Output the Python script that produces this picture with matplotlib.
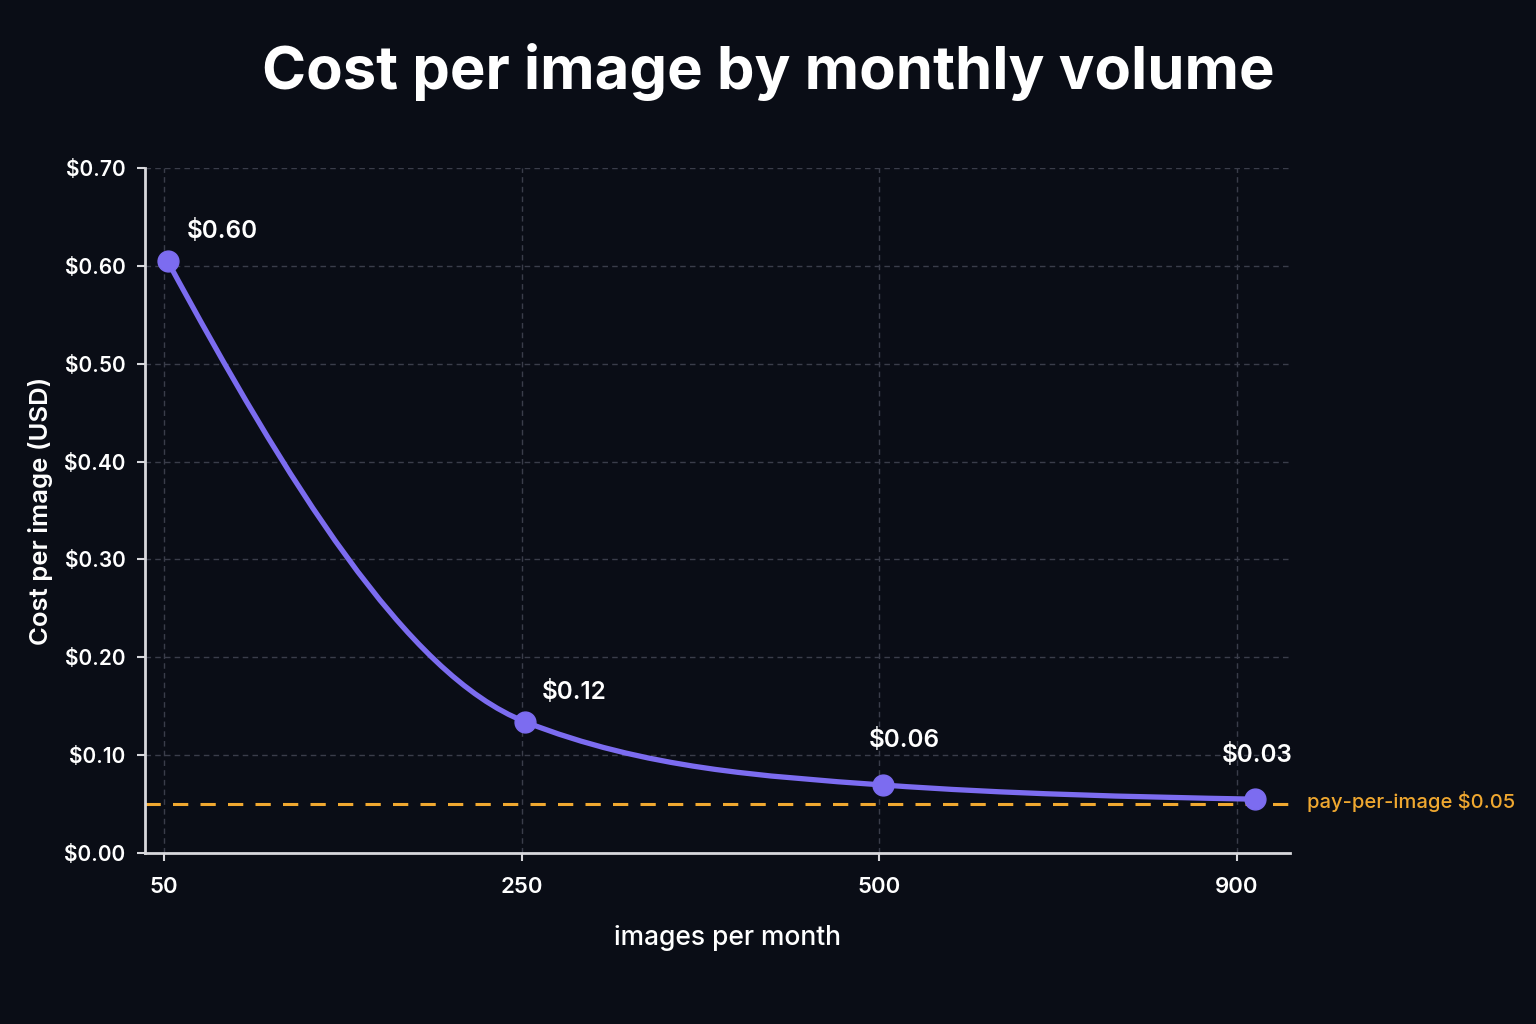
import matplotlib
matplotlib.use("Agg")
import matplotlib.pyplot as plt
from matplotlib.path import Path
from matplotlib.patches import PathPatch
import numpy as np

plt.rcParams['font.family'] = ['Inter', 'DejaVu Sans']

# data
volume_labels = ['50', '250', '500', '900']
point_pos = [0.01, 1.01, 2.01, 3.05]
cost = [0.605, 0.134, 0.0695, 0.055]
cost_labels = ['$0.60', '$0.12', '$0.06', '$0.03']
pay_per_image = 0.05

bg = '#0a0d16'
purple = '#7c6cf0'
orange = '#f0a830'
axis_col = '#d8d8dc'

fig = plt.figure(figsize=(15.36, 10.24), dpi=100, facecolor=bg)
ax = fig.add_axes([145 / 1536, 1 - 853 / 1024, (1290 - 145) / 1536, (853 - 168) / 1024])
ax.set_facecolor(bg)

# smooth decaying curve through the points -> cubic bezier segments
x = np.array(point_pos)
y = np.array(cost)
h = np.diff(x)
d = np.diff(y) / h
m = np.zeros_like(y)
for i in range(1, len(y) - 1):
    geo = -np.sqrt(d[i - 1] * d[i])
    harm = 2 / (1 / d[i - 1] + 1 / d[i])
    m[i] = (geo + harm) / 2
m[0] = ((2 * h[0] + h[1]) * d[0] - h[0] * d[1]) / (h[0] + h[1])
m[-1] = d[-1] * 0.5
verts = [(x[0], y[0])]
codes = [Path.MOVETO]
for i in range(len(x) - 1):
    verts += [(x[i] + h[i] / 3, y[i] + m[i] * h[i] / 3),
              (x[i + 1] - h[i] / 3, y[i + 1] - m[i + 1] * h[i] / 3),
              (x[i + 1], y[i + 1])]
    codes += [Path.CURVE4] * 3

ax.axhline(pay_per_image, color=orange, lw=2.2, ls=(0, (5, 4)), zorder=2)
ax.add_patch(PathPatch(Path(verts, codes), fill=False, edgecolor=purple, lw=3.8,
                       capstyle='round', zorder=3))
ax.plot(point_pos, cost, 'o', color=purple, ms=15, zorder=4)

offsets = [(14, 13), (12, 13), (-10, 24), (-24, 23)]
for px, c, lab, off in zip(point_pos, cost, cost_labels, offsets):
    ax.annotate(lab, (px, c), xytext=off, textcoords='offset points',
                color='white', fontsize=17.5, fontweight='semibold', va='bottom')

ax.text(1.015, pay_per_image + 0.003, 'pay-per-image $0.05', transform=ax.get_yaxis_transform(),
        color=orange, fontsize=14.5, fontweight='medium', va='center', ha='left')

ax.set_xlim(-0.053, 3.148)
ax.set_ylim(0, 0.70)
ax.set_xticks(range(len(volume_labels)))
ax.set_xticklabels(volume_labels)
ax.set_yticks(np.arange(0, 0.71, 0.1))
ax.set_yticklabels(['$%.2f' % v for v in np.arange(0, 0.71, 0.1)])

ax.grid(True, color='#3a3d4a', ls=(0, (4, 3)), lw=1)
ax.set_axisbelow(True)
for s in ['top', 'right']:
    ax.spines[s].set_visible(False)
for s in ['left', 'bottom']:
    ax.spines[s].set_color(axis_col)
    ax.spines[s].set_linewidth(2)
ax.tick_params(colors=axis_col, labelcolor='white', labelsize=15, width=1.5, length=6, pad=8)
ax.tick_params(axis='x', labelsize=16, pad=11)
for t in ax.get_xticklabels() + ax.get_yticklabels():
    t.set_fontweight('semibold')

ax.set_xlabel('images per month', color='white', fontsize=19, fontweight='medium', labelpad=20)
ax.xaxis.set_label_coords(0.509, -0.105)
ax.set_ylabel('Cost per image (USD)', color='white', fontsize=18.5, fontweight='semibold', labelpad=8)

fig.text(0.5, 1 - 72 / 1024, 'Cost per image by monthly volume', color='white',
         fontsize=43, fontweight='bold', ha='center', va='center')

fig.savefig('out.png', dpi=100, facecolor=bg)
